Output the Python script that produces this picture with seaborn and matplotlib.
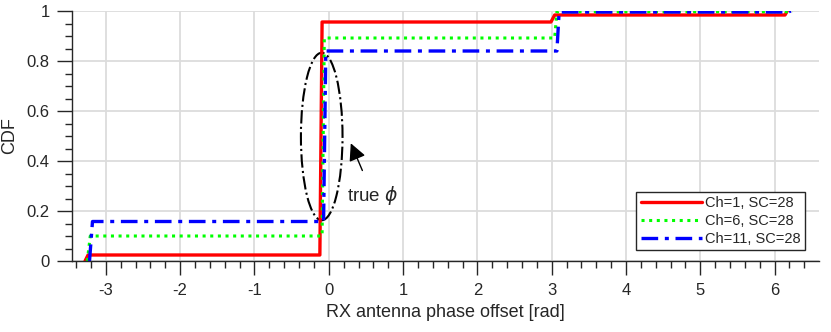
import numpy as np
import pandas as pd
import matplotlib
matplotlib.use("Agg")
import matplotlib.pyplot as plt
from matplotlib.patches import Ellipse
from matplotlib.ticker import MultipleLocator
import seaborn as sns

# ---- data ----
labels = ["Ch=1, SC=28", "Ch=6, SC=28", "Ch=11, SC=28"]
x_ch1 = [-3.28, -3.24, -0.12, -0.09, 2.99, 3.04, 6.14, 6.17]
y_ch1 = [0.0, 0.024, 0.024, 0.956, 0.956, 0.984, 0.984, 1.0]
x_ch6 = [-3.25, -3.21, -0.09, -0.06, 3.04, 3.07, 6.20, 6.24]
y_ch6 = [0.0, 0.10, 0.10, 0.892, 0.892, 0.997, 0.997, 1.0]
x_ch11 = [-3.22, -3.18, -0.07, -0.04, 3.07, 3.10, 6.18, 6.22]
y_ch11 = [0.0, 0.158, 0.158, 0.84, 0.84, 0.996, 0.996, 1.0]
colors = ["#ff0000", "#00ff00", "#0000ff"]
xtick_vals = [-3, -2, -1, 0, 1, 2, 3, 4, 5, 6]
ytick_vals = [0, 0.2, 0.4, 0.6, 0.8, 1]

sns.set_theme(style="white")
plt.rcParams["font.family"] = ["Liberation Sans", "DejaVu Sans"]
plt.rcParams["mathtext.fontset"] = "dejavusans"
plt.rcParams["axes.unicode_minus"] = False

fig = plt.figure(figsize=(8.31, 3.32), dpi=100)
ax = fig.add_axes([72 / 831, 1 - 261 / 332, 747 / 831, 250 / 332])

series = [(x_ch1, y_ch1), (x_ch6, y_ch6), (x_ch11, y_ch11)]
styles = [dict(linestyle="-", linewidth=2.4),
          dict(linestyle=(0, (1, 1.5)), linewidth=2.2),
          dict(linestyle=(0, (5, 2, 1.2, 2)), linewidth=2.4)]
for (xs, ys), lab, c, st in zip(series, labels, colors, styles):
    df = pd.DataFrame({"x": xs, "y": ys})
    sns.lineplot(data=df, x="x", y="y", ax=ax, color=c, label=lab,
                 sort=False, estimator=None, **st)

ax.set_xlim(-1.1 * np.pi, 2.1 * np.pi)
ax.set_ylim(0, 1)
ax.set_xticks(xtick_vals)
ax.set_yticks(ytick_vals)
ax.set_yticklabels(["0", "0.2", "0.4", "0.6", "0.8", "1"])
ax.xaxis.set_minor_locator(MultipleLocator(0.2))
ax.yaxis.set_minor_locator(MultipleLocator(0.05))
ax.grid(True, which="major", color="#dcdcdc", linewidth=1.3)
ax.set_axisbelow(True)
for s in ["top", "right"]:
    ax.spines[s].set_visible(False)
for s in ["left", "bottom"]:
    ax.spines[s].set_color("#262626")
    ax.spines[s].set_linewidth(1.0)
ax.tick_params(which="major", direction="out", length=10, width=1.0,
               color="#262626", labelsize=12, labelcolor="#262626", pad=6,
               bottom=True, left=True)
ax.tick_params(which="minor", direction="out", length=5, width=1.0,
               color="#262626", bottom=True, left=True)
ax.tick_params(axis="y", which="major", length=11, pad=5)

ax.set_xlabel("RX antenna phase offset [rad]", fontsize=13, color="#262626",
              labelpad=4)
ax.set_ylabel("CDF", fontsize=13, color="#262626", labelpad=6)

# annotation ellipse + arrow
ell = Ellipse((-0.095, 0.498), width=0.56, height=0.67, fill=False,
              edgecolor="black", linestyle="-.", linewidth=1.5)
ax.add_patch(ell)
ax.annotate(r"true $\phi$", xy=(0.296, 0.471), xytext=(0.25, 0.262),
            fontsize=13.5, color="#262626", ha="left", va="center",
            arrowprops=dict(arrowstyle="-|>", color="black", lw=1.0,
                            mutation_scale=26, shrinkA=8, shrinkB=0))

leg = ax.legend(loc="lower right", bbox_to_anchor=(0.981, 0.044),
                fontsize=10.5, frameon=True, fancybox=False,
                edgecolor="#262626", handlelength=4.2, handletextpad=0.2,
                borderpad=0.3, labelspacing=0.25, borderaxespad=0)
leg.get_frame().set_linewidth(1.0)
leg.get_frame().set_alpha(1)

fig.savefig("out.png", dpi=100)
